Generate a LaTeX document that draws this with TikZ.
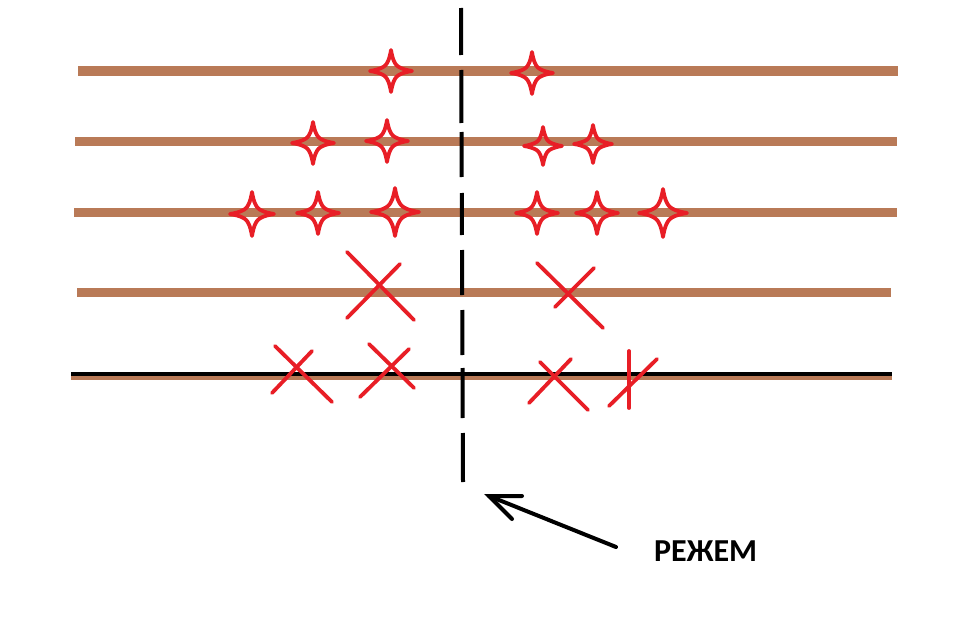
\documentclass[tikz,border=0pt]{standalone}
\usepackage{fontspec}
\setmainfont{Carlito}
\definecolor{plank}{RGB}{185,122,87}
\definecolor{mark}{RGB}{232,30,38}
\tikzset{
  board/.style={draw=plank,line width=9pt},
  cutline/.style={draw=black,line width=4pt,dash pattern=on 47pt off 15pt on 53pt off 9pt on 45pt off 16pt on 42pt off 15pt on 45pt off 15pt on 45pt off 13pt on 50pt off 15pt on 49pt off 20pt},
  redline/.style={draw=mark,line width=3.8pt,line cap=round,line join=round},
  pics/quadstar/.style={code={
    \draw[redline] (#1,0)
      .. controls (0.5*#1,0.08*#1) and (0.34*#1,0.2*#1) .. (0.27*#1,0.27*#1)
      .. controls (0.2*#1,0.34*#1) and (0.08*#1,0.5*#1) .. (0,#1)
      .. controls (-0.08*#1,0.5*#1) and (-0.2*#1,0.34*#1) .. (-0.27*#1,0.27*#1)
      .. controls (-0.34*#1,0.2*#1) and (-0.5*#1,0.08*#1) .. (-#1,0)
      .. controls (-0.5*#1,-0.08*#1) and (-0.34*#1,-0.2*#1) .. (-0.27*#1,-0.27*#1)
      .. controls (-0.2*#1,-0.34*#1) and (-0.08*#1,-0.5*#1) .. (0,-#1)
      .. controls (0.08*#1,-0.5*#1) and (0.2*#1,-0.34*#1) .. (0.27*#1,-0.27*#1)
      .. controls (0.34*#1,-0.2*#1) and (0.5*#1,-0.08*#1) .. cycle;
  }},
  arrowline/.style={draw=black,line width=4pt,line cap=round},
}
\begin{document}
\begin{tikzpicture}[x=1pt,y=-1pt]
\useasboundingbox[fill=white] (0,0) rectangle (960,626);
% boards
\coordinate (b1l) at (78,71);  \coordinate (b1r) at (898,71);
\coordinate (b2l) at (75,141); \coordinate (b2r) at (897,141);
\coordinate (b3l) at (74,212); \coordinate (b3r) at (897,212);
\coordinate (b4l) at (77,292); \coordinate (b4r) at (891,292);
\coordinate (b5l) at (71,376); \coordinate (b5r) at (892,376);
\coordinate (k5l) at (71,374); \coordinate (k5r) at (892,374);
\draw[board,line width=10pt] (b1l) -- (b1r);
\draw[board] (b2l) -- (b2r);
\draw[board] (b3l) -- (b3r);
\draw[board] (b4l) -- (b4r);
\draw[board,line width=7pt] (b5l) -- (b5r);
\draw[draw=black,line width=4.5pt] (k5l) -- (k5r);
% cut line
\coordinate (ctop) at (461,8);
\coordinate (cbot) at (463,482);
\draw[cutline] (ctop) -- (cbot);
% stars row 1
\pic at (391,71) {quadstar=21};
\pic at (532,73) {quadstar=21};
% stars row 2
\pic at (313,143) {quadstar=21};
\pic at (387,141) {quadstar=21};
\pic at (543,146) {quadstar=19};
\pic at (593,144) {quadstar=19};
% stars row 3
\pic at (252,214) {quadstar=22};
\pic at (318,213) {quadstar=21};
\pic at (395,212) {quadstar=24};
\pic at (537,213) {quadstar=21};
\pic at (597,213) {quadstar=21};
\pic at (663,213) {quadstar=24};
% crosses row 4
\draw[redline] (347,252) -- (414,320);
\draw[redline] (400,264) -- (347,318);
\draw[redline] (537,263) -- (603,328);
\draw[redline] (594,268) -- (555,307);
% crosses row 5
\draw[redline] (275,346) -- (332,402);
\draw[redline] (312,351) -- (272,393);
\draw[redline] (369,344) -- (414,388);
\draw[redline] (409,349) -- (360,397);
\draw[redline] (540,362) -- (588,410);
\draw[redline] (571,359) -- (529,403);
\draw[redline] (629,351) -- (629,408);
\draw[redline] (657,359) -- (609,406);
% arrow and label
\node[font=\bfseries,inner sep=0pt,anchor=west] (label) at (654,551) {\fontsize{32}{32}\selectfont РЕЖЕМ};
\coordinate (tip) at (489,496);
\coordinate (tail) at (616,547);
\coordinate (barbA) at (522,496);
\coordinate (barbB) at (512,519);
\draw[arrowline] (tail) -- (tip);
\draw[arrowline] (barbA) -- (tip) -- (barbB);
\end{tikzpicture}
\end{document}
